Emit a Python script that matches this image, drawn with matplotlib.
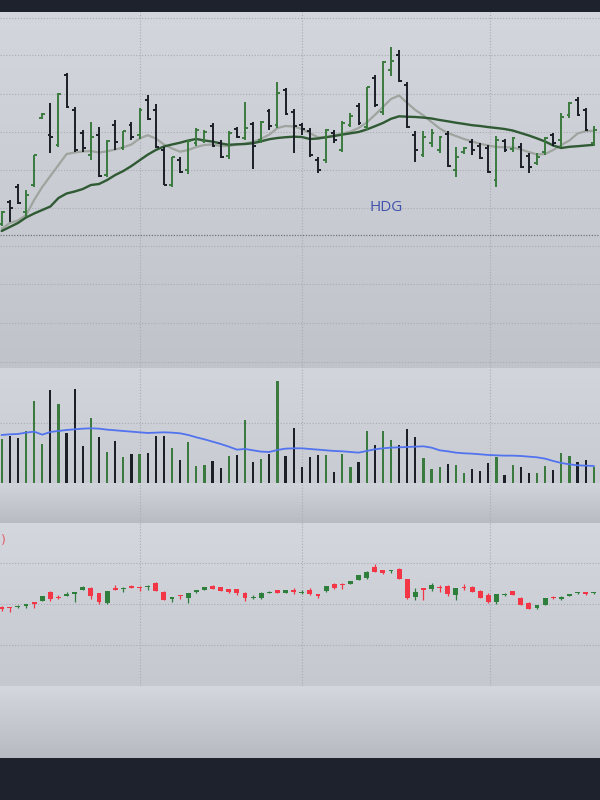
import numpy as np
import matplotlib
matplotlib.use("Agg")
import matplotlib.pyplot as plt
from matplotlib.colors import LinearSegmentedColormap

# ---------------- data ----------------
symbol = "HDG"

opens = [17.6, 19.8, 21.3, 18.8, 21.5, 28.2, 26.5, 25.5, 32.5, 29.0,
         26.7, 24.5, 26.5, 22.5, 27.5, 25.2, 27.5, 26.5, 30.0, 29.0,
         25.0, 21.5, 24.0, 23.0, 25.7, 25.9, 27.4, 25.7, 24.4, 27.1,
         26.2, 27.6, 26.0, 28.9, 27.5, 31.0, 28.8, 27.5, 26.9, 24.0,
         24.0, 26.7, 25.0, 27.5, 29.4, 27.3, 32.2, 28.8, 33.0, 34.5,
         31.5, 26.5, 24.5, 25.7, 25.0, 26.6, 23.0, 24.8, 25.8, 25.4,
         25.2, 22.0, 25.9, 25.1, 25.3, 24.4, 23.7, 24.8, 26.5, 26.0,
         28.5, 30.0, 29.0, 25.7]
highs = [18.9, 20.0, 21.6, 21.0, 24.5, 28.7, 29.7, 30.7, 32.7, 29.3,
         27.0, 27.8, 27.3, 26.0, 28.0, 26.9, 27.8, 29.2, 30.5, 29.6,
         25.3, 24.3, 24.3, 26.0, 27.2, 27.0, 27.7, 26.0, 26.9, 27.3,
         29.8, 27.8, 27.9, 29.1, 31.8, 31.2, 29.1, 27.7, 27.2, 24.3,
         27.1, 27.0, 27.9, 28.7, 29.7, 31.3, 32.5, 33.9, 35.3, 35.0,
         31.8, 26.9, 26.9, 27.1, 26.4, 26.9, 25.3, 25.3, 26.1, 25.7,
         25.5, 26.4, 26.1, 26.3, 25.7, 24.7, 24.7, 26.3, 26.7, 28.7,
         29.8, 30.3, 29.2, 27.4]
lows = [17.4, 17.8, 19.6, 18.3, 21.3, 28.1, 24.7, 25.3, 29.2, 24.8,
        24.8, 24.0, 22.3, 22.3, 25.0, 25.0, 26.0, 26.1, 28.0, 25.2,
        21.5, 21.3, 22.7, 22.6, 25.4, 25.7, 25.3, 24.2, 24.1, 26.2,
        26.0, 23.1, 25.7, 27.0, 27.2, 28.5, 24.7, 26.5, 24.3, 22.7,
        23.7, 25.7, 24.8, 27.3, 27.5, 27.0, 29.3, 28.5, 32.4, 31.8,
        27.2, 23.8, 24.3, 25.3, 24.7, 23.3, 22.3, 24.6, 24.5, 24.1,
        22.7, 21.3, 24.8, 24.8, 23.2, 22.7, 23.5, 24.5, 25.4, 25.3,
        28.2, 28.4, 26.9, 25.4]
closes = [18.8, 19.2, 19.7, 20.5, 24.45, 28.6, 26.3, 30.6, 29.25, 25.0,
          25.2, 26.3, 22.4, 25.9, 25.8, 26.9, 26.3, 29.0, 28.1, 25.3,
          21.5, 24.3, 22.8, 25.9, 27.0, 26.8, 25.4, 24.3, 26.7, 26.3,
          27.2, 25.4, 27.8, 27.4, 30.7, 28.6, 27.4, 27.1, 24.5, 23.0,
          27.0, 26.0, 27.7, 28.4, 27.7, 31.3, 29.5, 33.8, 33.9, 31.9,
          27.3, 25.0, 26.3, 26.7, 26.3, 23.4, 24.3, 25.2, 25.0, 24.2,
          22.8, 26.0, 25.0, 26.2, 23.3, 23.3, 24.3, 26.2, 25.7, 28.3,
          29.7, 28.5, 27.0, 27.0]

ma_fast = [17.1, 17.7, 17.95, 18.5, 20.0, 21.3, 22.4, 23.5, 24.6, 24.75,
           24.85, 24.9, 24.75, 24.87, 25.05, 25.27, 25.55, 26.15, 26.48, 26.15,
           25.55, 25.15, 24.83, 25.0, 25.3, 25.5, 25.55, 25.4, 25.4, 25.54,
           25.64, 25.82, 26.13, 26.54, 27.2, 27.4, 27.35, 27.1, 26.68, 26.27,
           26.27, 26.47, 26.65, 26.84, 27.2, 27.75, 28.5, 29.3, 30.1, 30.45,
           29.7, 29.0, 28.45, 27.8, 27.15, 26.7, 26.4, 26.1, 25.85, 25.62,
           25.45, 25.3, 25.27, 25.25, 25.05, 24.8, 24.55, 24.6, 25.0, 25.5,
           25.95, 26.65, 26.88, 26.93]
ma_slow = [16.9, 17.3, 17.7, 18.25, 18.65, 19.0, 19.35, 20.2, 20.65, 20.85,
           21.1, 21.5, 21.6, 22.0, 22.5, 22.9, 23.4, 23.97, 24.53, 25.0,
           25.35, 25.55, 25.73, 25.95, 26.1, 25.95, 25.84, 25.66, 25.52, 25.57,
           25.6, 25.68, 25.87, 26.08, 26.2, 26.28, 26.33, 26.3, 26.1, 26.15,
           26.28, 26.4, 26.54, 26.67, 26.8, 27.05, 27.37, 27.7, 28.12, 28.37,
           28.33, 28.3, 28.24, 28.15, 28.0, 27.87, 27.73, 27.61, 27.48, 27.4,
           27.29, 27.2, 27.1, 26.95, 26.7, 26.45, 26.16, 25.85, 25.45, 25.2,
           25.32, 25.38, 25.45, 25.52]
ref_price = 16.5

volume = [1320, 1420, 1350, 1570, 2470, 1190, 2790, 2390, 1510, 2820,
          1130, 1960, 1380, 940, 1270, 780, 870, 870, 910, 1420,
          1420, 1060, 700, 1230, 530, 550, 660, 460, 810, 840,
          1900, 630, 720, 870, 3080, 810, 1670, 500, 780, 840,
          840, 330, 870, 500, 630, 1580, 1160, 1580, 1290, 1160,
          1620, 1390, 750, 430, 500, 580, 560, 310, 430, 370,
          620, 800, 240, 550, 490, 310, 310, 520, 400, 900,
          810, 650, 710, 500]
volume_ma = [1450, 1470, 1480, 1520, 1550, 1460, 1540, 1570, 1600, 1620,
             1640, 1650, 1640, 1610, 1590, 1570, 1550, 1530, 1510, 1520,
             1530, 1520, 1500, 1450, 1380, 1320, 1250, 1180, 1100, 1010,
             1030, 990, 950, 940, 1000, 1040, 1050, 1050, 1030, 1010,
             990, 970, 960, 940, 920, 970, 1020, 1050, 1070, 1080,
             1090, 1100, 1110, 1070, 990, 960, 920, 900, 890, 870,
             850, 840, 830, 830, 820, 800, 780, 740, 670, 610,
             570, 540, 530, 520]

c_open = [966.5, 963.5, 963.5, 971.5, 988.5, 995, 1041.5, 1016.5, 1021.5, 1031.5,
          1050, 1058.5, 1033.5, 983.5, 1061.5, 1053.5, 1070, 1065, 1065, 1083.5,
          1041.5, 1006.5, 1025, 1008.5, 1038.5, 1051.5, 1071.5, 1063.5, 1053.5, 1053.5,
          1036.5, 1010, 1011.5, 1035, 1048.5, 1035, 1050, 1036.5, 1050, 1030,
          1046.5, 1081.5, 1081.5, 1081.5, 1100, 1111.5, 1166.5, 1150, 1143.5, 1153.5,
          1105, 1016.5, 1058.5, 1053.5, 1065, 1071.5, 1025, 1066.5, 1066.5, 1046.5,
          1025, 991.5, 1023.5, 1045, 1011.5, 983.5, 958.5, 975, 1016.5, 1003.5,
          1020, 1033.5, 1038.5, 1033.5]
c_high = [970, 965, 973, 980, 990, 1020, 1043, 1025, 1038.5, 1040,
          1070, 1066.5, 1035, 1046, 1075, 1065, 1075, 1071.5, 1073, 1088.5,
          1043, 1015, 1027, 1035, 1050, 1065, 1073, 1065, 1055, 1055,
          1038, 1023.5, 1038, 1043, 1050, 1050, 1058.5, 1050, 1058.5, 1032,
          1072, 1083, 1083, 1097, 1127, 1143, 1178.5, 1152, 1152, 1161.5,
          1107, 1058.5, 1060, 1083.5, 1075, 1073, 1060, 1078.5, 1068, 1048,
          1033.5, 1032, 1033, 1046, 1013, 991.5, 977, 1010, 1018, 1018,
          1032, 1040, 1040, 1038]
c_low = [945, 940, 962, 961.5, 961.5, 994, 995, 1005, 1020, 991.5,
         1049, 1005, 980, 982, 1050, 1041.5, 1058, 1045, 1050, 1043,
         998, 988.5, 1003.5, 983.5, 1037, 1050, 1053, 1045, 1037, 1025,
         995, 1005, 1003.5, 1033, 1033, 1033, 1028.5, 1030, 1025, 1011.5,
         1041.5, 1057, 1055, 1080, 1098, 1105, 1140, 1132, 1133.5, 1103,
         1006, 1000, 1000, 1045, 1041.5, 1021.5, 1000, 1050, 1040, 1010,
         983.5, 978.5, 1022, 1023, 973, 953, 957, 973, 1007, 1002,
         1018.5, 1032, 1027, 1032]
c_close = [955, 958.5, 971.5, 978.5, 981.5, 1018.5, 1005, 1008.5, 1030, 1038.5,
           1066.5, 1021.5, 988.5, 1045, 1051.5, 1058.5, 1060, 1060, 1071.5, 1045,
           1000, 1013.5, 1018.5, 1033.5, 1048.5, 1063.5, 1055, 1046.5, 1038.5, 1033.5,
           1008.5, 1016.5, 1036.5, 1041.5, 1035, 1048.5, 1041.5, 1041.5, 1028.5, 1020,
           1070, 1058.5, 1075, 1095, 1125, 1141.5, 1141.5, 1133.5, 1150, 1105,
           1008.5, 1041.5, 1051.5, 1075, 1058.5, 1028.5, 1058.5, 1061.5, 1041.5, 1011.5,
           991.5, 1030, 1031.5, 1025, 975, 955, 975, 1008.5, 1008.5, 1016.5,
           1030, 1036.5, 1028.5, 1036.5]

# ---------------- style ----------------
BG_DARK = "#1e222d"
GREEN = "#3a7a3e"
BLACK = "#1b1f27"
C_GREEN = "#2e7f3c"
C_RED = "#f23645"
GRID = "#a9acb5"
GRID_LS = (0, (1, 1.6))
FIG_H = 800.0

fig = plt.figure(figsize=(6, 8), dpi=100)
fig.patch.set_facecolor(BG_DARK)


def band(top, bottom):
    return fig.add_axes([0, (FIG_H - bottom) / FIG_H, 1, (bottom - top) / FIG_H])


def gradient(ax, top_col, bot_col):
    cmap = LinearSegmentedColormap.from_list("g", [bot_col, top_col])
    ax.imshow(np.linspace(0, 1, 256).reshape(-1, 1), aspect="auto", cmap=cmap,
              origin="lower", extent=[0, 1, 0, 1], transform=ax.transAxes,
              zorder=0, interpolation="bilinear")


def clean(ax):
    ax.set_xticks([])
    ax.set_yticks([])
    for s in ax.spines.values():
        s.set_visible(False)


ax1 = band(12, 368)
ax2 = band(368, 483.3)
axA = band(483.3, 523)
ax3 = band(523, 686)
axB = band(686, 758)

gradient(ax1, "#d4d6de", "#c1c3cb")
gradient(ax2, "#d3d5dd", "#c9cbd3")
gradient(axA, "#d2d4dc", "#b9bbc3")
gradient(ax3, "#d5d7df", "#c6c8d0")
gradient(axB, "#d5d7df", "#b8bac2")

n = len(closes)
x = np.arange(n)
xlim = (-0.21, 73.77)
vgrid = [17.05, 37.0, 60.15]

o = np.array(opens); h = np.array(highs); l = np.array(lows); c = np.array(closes)
up = c >= o
cols = np.where(up, GREEN, BLACK)

# ---- price panel ----
for yv in [38.2, 34.5, 30.6, 26.8, 23.0, 19.2, 15.4, 11.6, 7.7, 3.8]:
    ax1.axhline(yv, color=GRID, lw=0.8, ls=GRID_LS, zorder=1)
for xv in vgrid:
    ax1.axvline(xv, color=GRID, lw=0.8, ls=GRID_LS, zorder=1)
ax1.axhline(ref_price, color="#6f737c", lw=0.9, ls=(0, (1, 1.2)), zorder=1)

ax1.plot(x, ma_fast, color="#9da59e", lw=1.6, zorder=2, solid_capstyle="round")
ax1.plot(x, ma_slow, color="#2f5a33", lw=1.7, zorder=2, solid_capstyle="round")
ax1.vlines(x, l, h, colors=cols, lw=1.4, zorder=3)
ax1.hlines(o, x - 0.35, x, colors=cols, lw=1.4, zorder=3)
ax1.hlines(c, x, x + 0.35, colors=cols, lw=1.4, zorder=3)
ax1.text(0.643, 0.452, symbol, transform=ax1.transAxes, ha="center", va="center",
         fontsize=11, color="#3f53ad", family="Open Sans", zorder=4)
ax1.set_xlim(*xlim)
ax1.set_ylim(3.2, 38.8)

# ---- volume panel ----
ax2.axhline(1810, color=GRID, lw=0.8, ls=GRID_LS, zorder=1)
for xv in vgrid:
    ax2.axvline(xv, color=GRID, lw=0.8, ls=GRID_LS, zorder=1)
ax2.bar(x, volume, width=0.27, color=cols, zorder=2)
ax2.plot(x, volume_ma, color="#5173ee", lw=1.3, zorder=3)
ax2.set_xlim(*xlim)
ax2.set_ylim(0, 3460)

for xv in vgrid:
    axA.axvline(xv, color=GRID, lw=0.8, ls=GRID_LS, zorder=1)
axA.set_xlim(*xlim)
axA.set_ylim(0, 1)
axB.set_xlim(*xlim)
axB.set_ylim(0, 1)

# ---- candle panel ----
co = np.array(c_open); cc = np.array(c_close)
ch = np.array(c_high); cl = np.array(c_low)
cup = cc >= co
ccols = np.where(cup, C_GREEN, C_RED)
for yv in [1185, 980, 775]:
    ax3.axhline(yv, color=GRID, lw=0.8, ls=GRID_LS, zorder=1)
for xv in vgrid:
    ax3.axvline(xv, color=GRID, lw=0.8, ls=GRID_LS, zorder=1)
ax3.vlines(x, cl, ch, colors=ccols, lw=0.9, zorder=2)
body = np.maximum(np.abs(cc - co), 5)
ax3.bar(x, body, bottom=np.minimum(co, cc), width=0.6, color=ccols, zorder=3)
ax3.text(0.002, 0.89, ")", transform=ax3.transAxes, ha="left", va="center",
         fontsize=9, color="#e0606a", zorder=4)
ax3.set_xlim(*xlim)
ax3.set_ylim(570, 1385)

for ax in (ax1, ax2, axA, ax3, axB):
    clean(ax)

fig.savefig("out.png", dpi=100, facecolor=fig.get_facecolor())
